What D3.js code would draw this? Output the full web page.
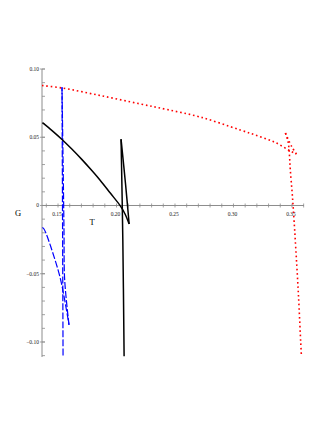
<!DOCTYPE html>
<html>
<head>
<meta charset="utf-8">
<script src="https://cdn.jsdelivr.net/npm/d3@7"></script>
<style>
  body { margin: 0; background: #fff; }
  text { font-family: "Liberation Serif", "DejaVu Serif", serif; }
</style>
</head>
<body>
<div id="chart"></div>
<script>
// curve data (T, G), one array per branch
var blackT1 = [0.1367, 0.1449, 0.1534, 0.1620, 0.1705, 0.1791, 0.1860, 0.1945, 0.2037, 0.2074, 0.2108];
var blackG1 = [0.0607, 0.0549, 0.0484, 0.0412, 0.0336, 0.0254, 0.0185, 0.0093, -0.0008, -0.0064, -0.0136];
var blackT2 = [0.2108, 0.2078, 0.2039];
var blackG2 = [-0.0136, 0.0150, 0.0485];
var blackT3 = [0.2039, 0.2054, 0.2065];
var blackG3 = [0.0485, -0.0253, -0.1105];

var blueT1 = [0.1366, 0.1380, 0.1472, 0.1523, 0.1557, 0.1594];
var blueG1 = [-0.0161, -0.0172, -0.0392, -0.0546, -0.0692, -0.0875];
var blueT2 = [0.1594, 0.1557, 0.1551, 0.1543, 0.1534];
var blueG2 = [-0.0875, -0.0546, -0.0179, 0.0333, 0.0866];
var blueT3 = [0.1534, 0.1538, 0.1543];
var blueG3 = [0.0866, 0.0040, -0.1103];

var redT1 = [0.1363, 0.1534, 0.1860, 0.2202, 0.2433, 0.2716, 0.3058, 0.3229, 0.3366, 0.3478, 0.3538];
var redG1 = [0.0879, 0.0861, 0.0806, 0.0744, 0.0703, 0.0648, 0.0553, 0.0504, 0.0458, 0.0403, 0.0377];
var redT2 = [0.3538, 0.3495, 0.3444];
var redG2 = [0.0377, 0.0436, 0.0531];
var redT3 = [0.3444, 0.3467, 0.3480, 0.3486, 0.3501, 0.3515, 0.3549, 0.3561, 0.3575, 0.3581];
var redG3 = [0.0531, 0.0467, 0.0350, 0.0260, 0.0101, -0.0070, -0.0553, -0.0749, -0.1005, -0.1103];

var xTicks = [0.15, 0.20, 0.25, 0.30, 0.35];
var xTickLabels = ["0.15", "0.20", "0.25", "0.30", "0.35"];
var yTicks = [0.10, 0.05, 0, -0.05, -0.10];
var yTickLabels = ["0.10", "0.05", "0", "\u22120.05", "\u22120.10"];

var width = 327, height = 423;

var svg = d3.select("#chart")
  .append("svg")
    .attr("width", width)
    .attr("height", height);

var x = d3.scaleLinear()
  .domain([0.1363, 0.3603])
  .range([42, 304]);

var y = d3.scaleLinear()
  .domain([-0.111, 0.100])
  .range([357, 69]);

var axisColor = "#8c8c8c";

// x axis along G = 0
var xAxis = svg.append("g").attr("transform", "translate(0," + y(0) + ")");
xAxis.append("line")
  .attr("x1", x.range()[0]).attr("x2", x.range()[1])
  .attr("stroke", axisColor).attr("stroke-width", 1);
xAxis.selectAll(".minor")
  .data(d3.range(0.14, 0.3605, 0.01))
  .enter().append("line")
    .attr("x1", function(d) { return x(d); })
    .attr("x2", function(d) { return x(d); })
    .attr("y1", -2).attr("y2", 2)
    .attr("stroke", axisColor).attr("stroke-width", 0.8);
xAxis.selectAll(".lab")
  .data(xTicks)
  .enter().append("text")
    .attr("x", function(d) { return x(d) - 1; })
    .attr("y", 11)
    .attr("text-anchor", "middle")
    .attr("font-size", 5.5)
    .attr("fill", "#222")
    .text(function(d, i) { return xTickLabels[i]; });

// y axis at left edge
var yAxis = svg.append("g").attr("transform", "translate(" + x.range()[0] + ",0)");
yAxis.append("line")
  .attr("y1", y.range()[0]).attr("y2", y.range()[1])
  .attr("stroke", axisColor).attr("stroke-width", 1);
yAxis.selectAll(".minor")
  .data(d3.range(-0.11, 0.1005, 0.01))
  .enter().append("line")
    .attr("y1", function(d) { return y(d); })
    .attr("y2", function(d) { return y(d); })
    .attr("x1", 0).attr("x2", 3)
    .attr("stroke", axisColor).attr("stroke-width", 0.8);
yAxis.selectAll(".major")
  .data(yTicks)
  .enter().append("line")
    .attr("y1", function(d) { return y(d); })
    .attr("y2", function(d) { return y(d); })
    .attr("x1", -2).attr("x2", 3)
    .attr("stroke", axisColor).attr("stroke-width", 0.8);
yAxis.selectAll(".lab")
  .data(yTicks)
  .enter().append("text")
    .attr("x", -3)
    .attr("y", function(d) { return y(d) + 2; })
    .attr("text-anchor", "end")
    .attr("font-size", 5.5)
    .attr("fill", "#222")
    .text(function(d, i) { return yTickLabels[i]; });

// axis titles
svg.append("text").attr("x", 18).attr("y", 216)
  .attr("text-anchor", "middle").attr("font-size", 8.5).attr("fill", "#000").text("G");
svg.append("text").attr("x", 92).attr("y", 225)
  .attr("text-anchor", "middle").attr("font-size", 8.5).attr("fill", "#000").text("T");

var line = d3.line()
  .x(function(d) { return x(d[0]); })
  .y(function(d) { return y(d[1]); })
  .curve(d3.curveCatmullRom);

function branch(ts, gs, color, dash, w) {
  svg.append("path")
    .datum(d3.zip(ts, gs))
    .attr("fill", "none")
    .attr("stroke", color)
    .attr("stroke-width", w)
    .attr("stroke-dasharray", dash)
    .attr("d", line);
}

branch(redT1, redG1, "#ff0000", "1.6,2.8", 1.6);
branch(redT2, redG2, "#ff0000", "1.6,2.8", 1.6);
branch(redT3, redG3, "#ff0000", "1.6,2.8", 1.6);

branch(blueT1, blueG1, "#0000ff", "7,2", 1.2);
branch(blueT2, blueG2, "#0000ff", "7,2", 1.2);
branch(blueT3, blueG3, "#0000ff", "7,2", 1.2);

branch(blackT1, blackG1, "#000000", null, 1.5);
branch(blackT2, blackG2, "#000000", null, 1.5);
branch(blackT3, blackG3, "#000000", null, 1.5);
</script>
</body>
</html>
